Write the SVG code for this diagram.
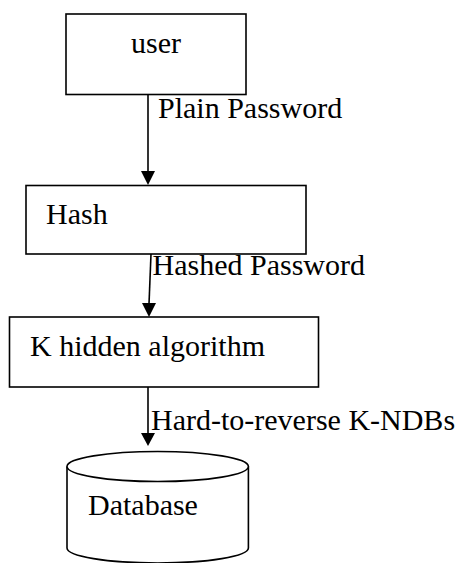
<svg xmlns="http://www.w3.org/2000/svg" width="456" height="563" viewBox="0 0 456 563">
  <style>
    .box { fill: #ffffff; stroke: #000000; stroke-width: 1.6; }
    .lbl { font-family: "Liberation Serif", "Times New Roman", serif; font-size: 30px; fill: #000000; }
    .edge { stroke: #000000; stroke-width: 1.6; fill: none; }
    .head { fill: #000000; stroke: none; }
  </style>
  <rect width="456" height="563" fill="#ffffff"/>
  <g id="connectors">
    <line class="edge" x1="148" y1="95" x2="148" y2="172"/>
    <polygon class="head" points="141,171 155,171 148,185"/>
    <line class="edge" x1="151" y1="254" x2="149" y2="304"/>
    <polygon class="head" points="142,303 156,303 149,317"/>
    <line class="edge" x1="148" y1="387" x2="148" y2="434"/>
    <polygon class="head" points="141,433 155,433 148,446"/>
    <text class="lbl" x="158" y="117.5">Plain Password</text>
    <text class="lbl" x="152.5" y="275">Hashed Password</text>
    <text class="lbl" x="151" y="430">Hard-to-reverse K-NDBs</text>
  </g>
  <g id="user">
    <rect class="box" x="66" y="14" width="180" height="80.5"/>
    <text class="lbl" x="131" y="52.5">user</text>
  </g>
  <g id="hash">
    <rect class="box" x="26" y="185.5" width="280" height="68.5"/>
    <text class="lbl" x="46" y="224">Hash</text>
  </g>
  <g id="k-hidden">
    <rect class="box" x="9.5" y="317" width="309" height="70"/>
    <text class="lbl" x="30" y="355.5">K hidden algorithm</text>
  </g>
  <g id="database">
    <path class="box" d="M67,466.5 L67,548 A90.7,15 0 0 0 248.4,548 L248.4,466.5"/>
    <ellipse class="box" cx="157.7" cy="466.5" rx="90.7" ry="15"/>
    <text class="lbl" x="88" y="514.5">Database</text>
  </g>
</svg>
